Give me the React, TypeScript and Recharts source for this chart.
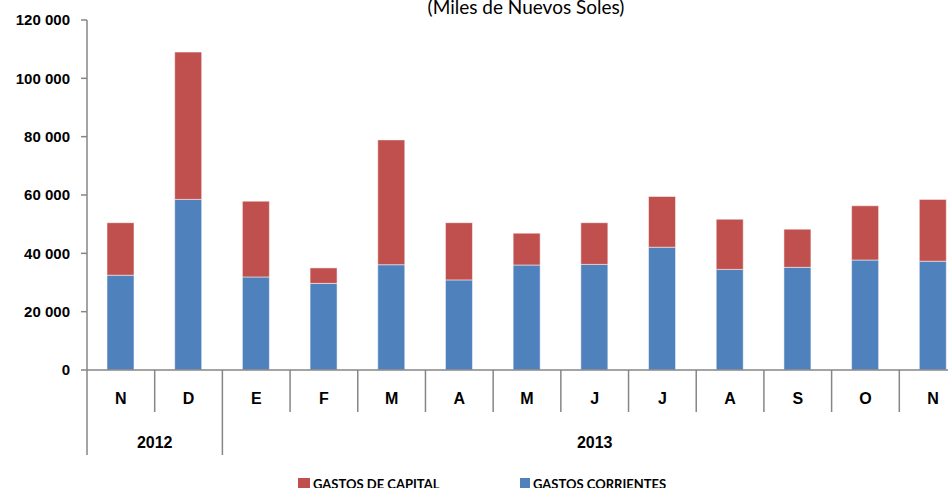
import { BarChart, Bar, XAxis, YAxis } from "recharts";

// Gasto ejecutado por mes (miles de nuevos soles)
const months = ["N", "D", "E", "F", "M", "A", "M", "J", "J", "A", "S", "O", "N"];
const corrientes = [32500, 58500, 31900, 29700, 36100, 30900, 36000, 36200, 42100, 34500, 35200, 37700, 37300];
const capital = [18000, 50500, 26000, 5300, 42800, 19600, 10900, 14300, 17400, 17200, 13100, 18600, 21200];
const yTicks = [0, 20000, 40000, 60000, 80000, 100000, 120000];
const yearGroups = [
  { label: "2012", start: 0, end: 2 },
  { label: "2013", start: 2, end: 13 },
];

const data = months.map((m, i) => ({
  idx: i,
  month: m,
  corrientes: corrientes[i],
  capital: capital[i],
}));

const BLUE = "#4F81BD";
const RED = "#C0504D";
const AXIS = "#868686";
const AXIS_Y = 370;
const PLOT_LEFT = 87;
const PLOT_W = 880;
const BAND = PLOT_W / months.length;

const fmt = (v: number) => String(v).replace(/\B(?=(\d{3})+(?!\d))/g, " ");

function MonthTick(props: any) {
  const { x, index } = props;
  const left = x - BAND / 2;
  const isGroupStart = yearGroups.some((g) => g.start === index);
  const group = yearGroups.find((g) => g.start === index);
  return (
    <g>
      <line
        x1={left}
        x2={left}
        y1={AXIS_Y}
        y2={isGroupStart ? 455 : 412}
        stroke={AXIS}
        strokeWidth={1.5}
      />
      {index === months.length - 1 && (
        <line x1={x + BAND / 2} x2={x + BAND / 2} y1={AXIS_Y} y2={455} stroke={AXIS} strokeWidth={1.5} />
      )}
      <text
        x={x}
        y={404}
        textAnchor="middle"
        fontFamily="Liberation Sans, Arial, sans-serif"
        fontWeight="bold"
        fontSize={16}
        fill="#000"
      >
        {months[index]}
      </text>
      {group && (
        <text
          x={left + ((group.end - group.start) * BAND) / 2}
          y={448}
          textAnchor="middle"
          fontFamily="Liberation Sans, Arial, sans-serif"
          fontWeight="bold"
          fontSize={16}
          fill="#000"
        >
          {group.label}
        </text>
      )}
    </g>
  );
}

export default function App() {
  return (
    <div
      style={{
        position: "absolute",
        left: 0,
        top: 0,
        width: 948,
        height: 488,
        overflow: "hidden",
        background: "#fff",
      }}
    >
      <div
        style={{
          position: "absolute",
          top: -4,
          left: 526,
          transform: "translateX(-50%)",
          whiteSpace: "nowrap",
          fontFamily: "Lato, 'Open Sans', sans-serif",
          fontSize: 19,
          lineHeight: "22px",
          color: "#000",
        }}
      >
        (Miles de Nuevos Soles)
      </div>

      <BarChart
        width={PLOT_LEFT + PLOT_W + 3}
        height={488}
        data={data}
        margin={{ top: 20, right: 3, left: 0, bottom: 0 }}
        barSize={27}
      >
        <YAxis
          width={PLOT_LEFT}
          domain={[0, 120000]}
          ticks={yTicks}
          interval={0}
          tickFormatter={fmt}
          axisLine={{ stroke: AXIS, strokeWidth: 1.5 }}
          tickLine={{ stroke: AXIS, strokeWidth: 1.5 }}
          tickSize={6}
          tickMargin={11}
          tick={{
            fill: "#000",
            fontSize: 15,
            fontWeight: "bold",
            fontFamily: "Liberation Sans, Arial, sans-serif",
          }}
        />
        <XAxis
          dataKey="idx"
          height={118}
          interval={0}
          axisLine={{ stroke: AXIS, strokeWidth: 1.5 }}
          tickLine={false}
          tick={<MonthTick />}
        />
        <Bar
          dataKey="corrientes"
          stackId="a"
          fill={BLUE}
          stroke="#fff"
          strokeOpacity={0.5}
          strokeWidth={1}
          isAnimationActive={false}
        />
        <Bar
          dataKey="capital"
          stackId="a"
          fill={RED}
          stroke="#fff"
          strokeOpacity={0.5}
          strokeWidth={1}
          isAnimationActive={false}
        />
      </BarChart>

      <div
        style={{
          position: "absolute",
          top: 476,
          left: 0,
          width: 948,
          fontFamily: "Lato, 'Open Sans', sans-serif",
          fontWeight: "bold",
          fontSize: 13,
          color: "#000",
        }}
      >
        <div style={{ position: "absolute", left: 298, top: 2, width: 12, height: 12, background: RED }} />
        <div style={{ position: "absolute", left: 313, top: 0, whiteSpace: "nowrap" }}>GASTOS DE CAPITAL</div>
        <div style={{ position: "absolute", left: 520, top: 2, width: 10, height: 12, background: BLUE }} />
        <div style={{ position: "absolute", left: 533, top: 0, whiteSpace: "nowrap" }}>GASTOS CORRIENTES</div>
      </div>
    </div>
  );
}
